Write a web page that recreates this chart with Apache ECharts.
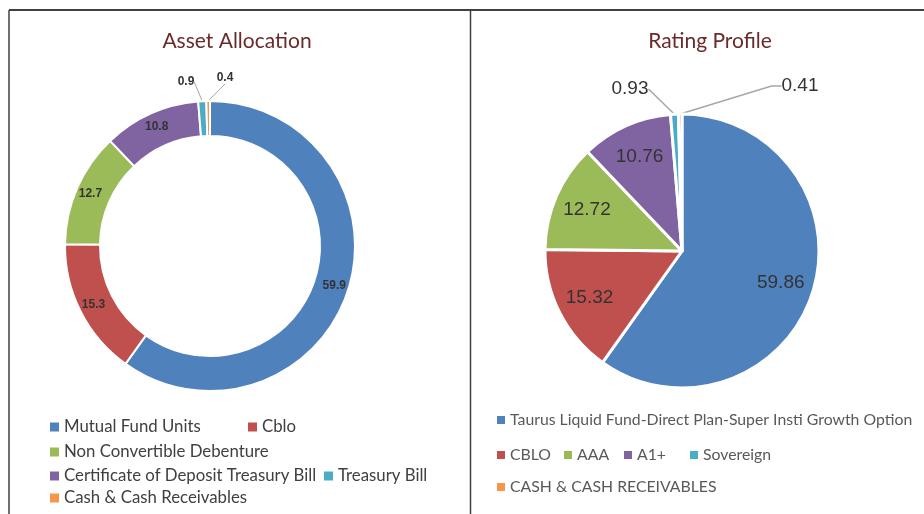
<!DOCTYPE html>
<html>
<head>
<meta charset="utf-8">
<script src="https://cdn.jsdelivr.net/npm/echarts@6/dist/echarts.min.js"></script>
<style>
  html, body { margin: 0; padding: 0; background: #fff; }
  #chart { width: 924px; height: 514px; }
</style>
</head>
<body>
<div id="chart"></div>
<script>
// 资产配置数据
const assetNames = ["Mutual Fund Units", "Cblo", "Non Convertible Debenture",
  "Certificate of Deposit Treasury Bill", "Treasury Bill", "Cash & Cash Receivables"];
const assetValues = [59.9, 15.3, 12.7, 10.8, 0.9, 0.4];

// 评级数据
const ratingNames = ["Taurus Liquid Fund-Direct Plan-Super Insti Growth Option", "CBLO",
  "AAA", "A1+", "Sovereign", "CASH & CASH RECEIVABLES"];
const ratingValues = [59.86, 15.32, 12.72, 10.76, 0.93, 0.41];

const colors = ["#4F81BD", "#C0504D", "#9BBB59", "#8064A2", "#4BACC6", "#F79646"];

// legend 位置 [left, 行中心y]
const assetLegendPos = [[48, 427], [246, 427], [48, 452], [48, 476], [322, 476], [48, 498]];
const ratingLegendPos = [[495, 420], [495, 455], [562, 455], [622, 455], [688, 455], [495, 487]];

// 小扇区标签的位置
const assetSmallLabels = { 4: [186, 82], 5: [225, 78] };
const ratingSmallLabels = { 4: [630, 89], 5: [800, 86] };

const numFont = '"Liberation Sans", Arial, sans-serif';

var oChart = echarts.init(document.getElementById("chart"));

function makeLegend(name, pos, size, color, box) {
  return {
    data: [name],
    left: pos[0],
    top: pos[1] - 9,
    padding: 0,
    itemWidth: box,
    itemHeight: box,
    icon: "rect",
    selectedMode: false,
    textStyle: { fontFamily: "Lato", fontSize: size, color: color, lineHeight: 18, padding: [0, 0, 0, -1] },
  };
}

let legends = [];
for (var i = 0; i < assetNames.length; i++) {
  legends.push(makeLegend(assetNames[i], assetLegendPos[i], 16.8, "#404040", 11));
}
for (var j = 0; j < ratingNames.length; j++) {
  legends.push(makeLegend(ratingNames[j], ratingLegendPos[j], 15.8, "#595959", 10));
}

function pieData(names, values, small, line2) {
  return values.map(function (v, k) {
    var d = { name: names[k], value: v };
    if (small[k]) {
      d.label = { position: "outside" };
      d.labelLine = { show: true, length: 10, length2: line2[k] || 0 };
    }
    return d;
  });
}

oChart.setOption({
  color: colors,
  title: [
    { text: "Asset Allocation", left: 232, top: 26, textAlign: "center",
      textStyle: { fontFamily: "Lato", fontSize: 21, fontWeight: "normal", color: "#6B2A2A" } },
    { text: "Rating Profile", left: 705, top: 26, textAlign: "center",
      textStyle: { fontFamily: "Lato", fontSize: 21, fontWeight: "normal", color: "#6B2A2A" } },
  ],
  legend: legends,
  graphic: [
    { type: "line", shape: { x1: 9, y1: 10, x2: 924, y2: 10 }, style: { stroke: "#404040", lineWidth: 2 } },
    { type: "line", shape: { x1: 9, y1: 10, x2: 9, y2: 514 }, style: { stroke: "#404040", lineWidth: 1.5 } },
    { type: "line", shape: { x1: 470.5, y1: 10, x2: 470.5, y2: 514 }, style: { stroke: "#404040", lineWidth: 1.5 } },
  ],
  series: [
    {
      name: "Asset Allocation",
      type: "pie",
      center: [210, 246],
      radius: [110, 145],
      startAngle: 90,
      avoidLabelOverlap: false,
      itemStyle: { borderColor: "#fff", borderWidth: 2 },
      label: {
        show: true,
        position: "inside",
        formatter: "{c}",
        fontFamily: numFont,
        fontWeight: "bold",
        fontSize: 12,
        color: "#333333",
      },
      labelLine: { show: false, lineStyle: { color: "#A6A6A6", width: 1 } },
      labelLayout: function (params) {
        var p = assetSmallLabels[params.dataIndex];
        if (p) {
          return { x: p[0], y: p[1], align: "center", verticalAlign: "middle" };
        }
      },
      emphasis: { disabled: true },
      data: pieData(assetNames, assetValues, assetSmallLabels, {}),
    },
    {
      name: "Rating Profile",
      type: "pie",
      center: [682, 251],
      radius: [0, 137],
      startAngle: 90,
      avoidLabelOverlap: false,
      itemStyle: { borderColor: "#fff", borderWidth: 3 },
      label: {
        show: true,
        position: "inside",
        formatter: "{c}",
        fontFamily: numFont,
        fontSize: 19,
        color: "#333333",
      },
      labelLine: { show: false, lineStyle: { color: "#A6A6A6", width: 1.5 } },
      labelLayout: function (params) {
        var p = ratingSmallLabels[params.dataIndex];
        if (p) {
          return { x: p[0], y: p[1], align: "center", verticalAlign: "middle" };
        }
        // 内部标签向外推
        var r = params.labelRect;
        var lx = r.x + r.width / 2, ly = r.y + r.height / 2;
        return { dx: (lx - 682) * 0.45, dy: (ly - 251) * 0.45 };
      },
      emphasis: { disabled: true },
      data: pieData(ratingNames, ratingValues, ratingSmallLabels, { 5: 10 }),
    },
  ],
});
</script>
</body>
</html>
